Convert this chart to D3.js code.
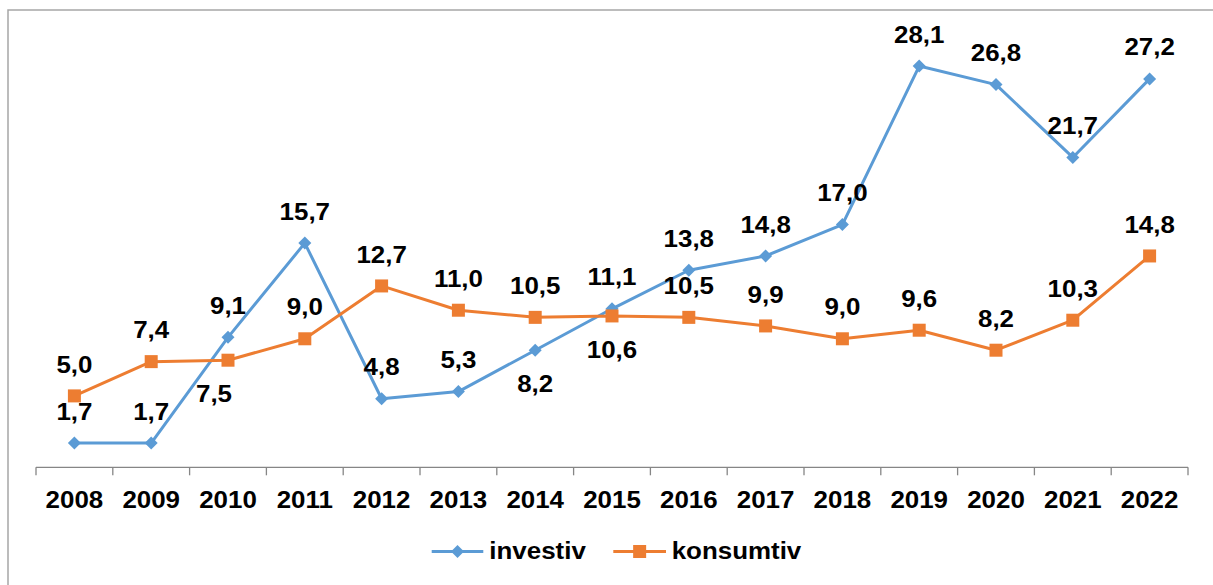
<!DOCTYPE html>
<html>
<head>
<meta charset="utf-8">
<script src="https://cdn.jsdelivr.net/npm/d3@7"></script>
<style>
  html, body { margin: 0; padding: 0; background: #fff; }
  svg { display: block; }
  text { font-family: "Liberation Sans", Arial, sans-serif; font-weight: bold; fill: #000; }
</style>
</head>
<body>
<svg id="chart" width="1213" height="585"></svg>
<script>
"use strict";

const years = ["2008", "2009", "2010", "2011", "2012", "2013", "2014", "2015", "2016", "2017", "2018", "2019", "2020", "2021", "2022"];
const investiv = [1.7, 1.7, 9.1, 15.7, 4.8, 5.3, 8.2, 11.1, 13.8, 14.8, 17.0, 28.1, 26.8, 21.7, 27.2];
const konsumtiv = [5.0, 7.4, 7.5, 9.0, 12.7, 11.0, 10.5, 10.6, 10.5, 9.9, 9.0, 9.6, 8.2, 10.3, 14.8];
const seriesNames = ["investiv", "konsumtiv"];

// labels that Excel put under the point instead of above
const labelsBelow = { investiv: ["2014"], konsumtiv: ["2010", "2015"] };

const C = { investiv: "#5B9BD5", konsumtiv: "#ED7D31", axis: "#868686", frame: "#A6A6A6" };
const L = { left: 36, right: 1188, y0: 467.3, y30: 38.9, fs: 24, sx: 1.08 };

const svg = d3.select("#chart");

// chart frame (only left/top edges show in the crop)
svg.append("rect")
    .attr("x", 8).attr("y", 10).attr("width", 1300).attr("height", 700)
    .attr("fill", "none").attr("stroke", C.frame).attr("stroke-width", 1.5);

const x = d3.scaleBand().domain(years).range([L.left, L.right]);
const y = d3.scaleLinear().domain([0, 30]).range([L.y0, L.y30]);
const cx = d => x(d) + x.bandwidth() / 2;

const fmt = v => d3.format(".1f")(v).replace(".", ",");

// slightly stretched text (the reference is a bit wider than tall)
function label(g, tx, ty, str, anchor) {
    return g.append("text")
        .attr("transform", `translate(${tx},${ty}) scale(${L.sx},1)`)
        .attr("text-anchor", anchor || "middle")
        .attr("font-size", L.fs)
        .text(str);
}

// --- x axis ---
const axisG = svg.append("g").attr("transform", `translate(0,${L.y0})`);
axisG.append("line")
    .attr("x1", L.left).attr("x2", L.right)
    .attr("stroke", C.axis).attr("stroke-width", 1.3);
const bounds = years.map(d => x(d)).concat([L.right]);
axisG.selectAll(".tick")
    .data(bounds).enter().append("line")
    .attr("x1", d => d).attr("x2", d => d)
    .attr("y1", 0).attr("y2", 8)
    .attr("stroke", C.axis).attr("stroke-width", 1.3);
years.forEach(yr => label(svg, cx(yr), 508.3, yr));

// --- series ---
const data = { investiv, konsumtiv };
const line = d3.line().x((v, i) => cx(years[i])).y(v => y(v));

seriesNames.forEach(name => {
    svg.append("path")
        .datum(data[name])
        .attr("d", line)
        .attr("fill", "none")
        .attr("stroke", C[name])
        .attr("stroke-width", 3)
        .attr("stroke-linejoin", "round");
});

function marker(g, name, px, py) {
    if (name === "investiv") {
        g.append("path")
            .attr("d", `M${px},${py - 6.5}L${px + 6.5},${py}L${px},${py + 6.5}L${px - 6.5},${py}Z`)
            .attr("fill", C.investiv);
    } else {
        g.append("rect")
            .attr("x", px - 6.5).attr("y", py - 6.5)
            .attr("width", 13).attr("height", 13)
            .attr("fill", C.konsumtiv);
    }
}

seriesNames.forEach(name => {
    data[name].forEach((v, i) => marker(svg, name, cx(years[i]), y(v)));
});

// data labels on top
seriesNames.forEach(name => {
    data[name].forEach((v, i) => {
        const yr = years[i];
        const below = labelsBelow[name].includes(yr);
        const dx = (name === "konsumtiv" && yr === "2010") ? -14 : 0;
        label(svg, cx(yr) + dx, below ? y(v) + 41.6 : y(v) - 23.4, fmt(v));
    });
});

// --- legend ---
const leg = svg.append("g");
const legItems = [
    { name: "investiv", x1: 431.7, x2: 483.3, tx: 489.3 },
    { name: "konsumtiv", x1: 613.3, x2: 666, tx: 671.7 }
];
legItems.forEach(it => {
    leg.append("line")
        .attr("x1", it.x1).attr("x2", it.x2).attr("y1", 551.5).attr("y2", 551.5)
        .attr("stroke", C[it.name]).attr("stroke-width", 3);
    marker(leg, it.name, (it.x1 + it.x2) / 2, 551.5);
    label(leg, it.tx, 559.3, it.name, "start");
});
</script>
</body>
</html>
